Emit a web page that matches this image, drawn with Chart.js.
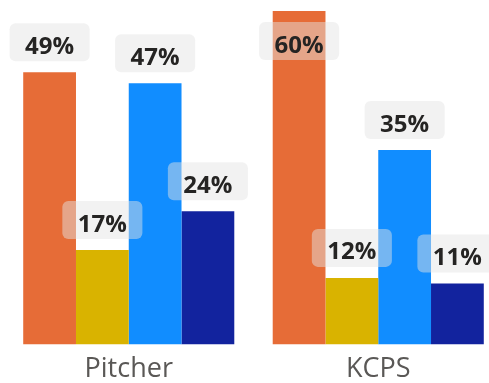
<!DOCTYPE html>
<html><head><meta charset="utf-8">
<script src="https://cdn.jsdelivr.net/npm/chart.js@4"></script>
<style>
html,body{margin:0;padding:0;background:#fff;overflow:hidden}
#wrap{width:489px;height:383px;overflow:hidden;position:relative}
canvas{display:block}
</style></head>
<body>
<div id="wrap"><canvas id="c" width="503" height="395"></canvas></div>
<script>
const categories = ['Pitcher', 'KCPS'];
const seriesNames = ['Series 1', 'Series 2', 'Series 3', 'Series 4'];
const orangeValues = [49, 60];
const goldValues = [17, 12];
const blueValues = [47, 35];
const navyValues = [24, 11];
const seriesColors = ['#E66C37', '#D9B300', '#118DFF', '#12239E'];

const labelPlugin = {
  id: 'boxLabels',
  afterDatasetsDraw(chart) {
    const ctx = chart.ctx;
    ctx.save();
    ctx.font = 'bold 24px "Open Sans"';
    chart.data.datasets.forEach((ds, i) => {
      const meta = chart.getDatasetMeta(i);
      meta.data.forEach((bar, j) => {
        const txt = ds.data[j] + '%';
        const tw = ctx.measureText(txt).width;
        const w = tw + 31, h = 38;
        let top = bar.y - 11 - h;
        if (top < 0) top = bar.y + 11;
        const left = bar.x - w / 2;
        ctx.fillStyle = 'rgba(228,228,228,0.48)';
        ctx.beginPath();
        ctx.roundRect(left, top, w, h, 6);
        ctx.fill();
        ctx.fillStyle = '#252423';
        ctx.textAlign = 'center';
        ctx.textBaseline = 'alphabetic';
        ctx.fillText(txt, bar.x, top + h / 2 + 11.5);
      });
    });
    ctx.restore();
  }
};

const allValues = [orangeValues, goldValues, blueValues, navyValues];
const datasets = allValues.map((vals, i) => ({
  label: seriesNames[i],
  data: vals,
  backgroundColor: seriesColors[i],
  borderWidth: 0,
  categoryPercentage: 0.846,
  barPercentage: 1.0
}));

function draw() {
  new Chart(document.getElementById('c'), {
    type: 'bar',
    data: { labels: categories, datasets },
    options: {
      responsive: false,
      animation: false,
      layout: { padding: { left: 4, right: 0, top: 11, bottom: 0 } },
      plugins: { legend: { display: false }, tooltip: { enabled: false } },
      scales: {
        x: {
          grid: { display: false, drawTicks: false },
          border: { display: false },
          ticks: { font: { family: 'Open Sans', size: 27 }, color: '#5A5856', padding: 9 }
        },
        y: { display: false, min: 0, max: 60 }
      }
    },
    plugins: [labelPlugin]
  });
}
Promise.all([
  document.fonts.load('bold 24px "Open Sans"'),
  document.fonts.load('27px "Open Sans"')
]).then(draw, draw);
</script>
</body></html>
